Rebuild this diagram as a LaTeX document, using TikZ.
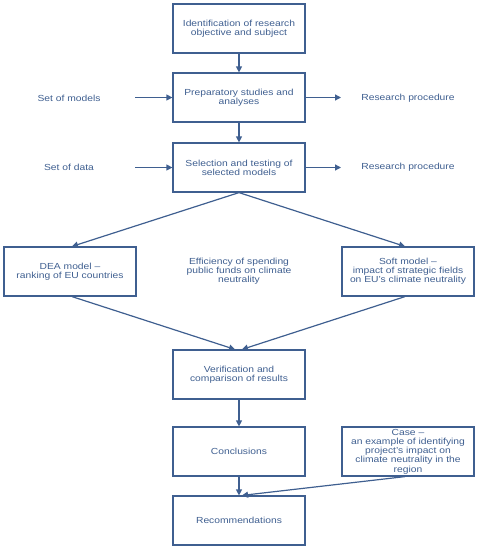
\documentclass[tikz,border=0pt]{standalone}
\usepackage{fontspec}
\setmainfont{Liberation Sans}
\newfontfamily\widefont[FakeStretch=1.17]{Liberation Sans}
\usetikzlibrary{arrows.meta}
\definecolor{dblue}{HTML}{3F5F90}
\begin{document}
\begin{tikzpicture}[x=1pt,y=-1pt,
  box/.style={draw=dblue,line width=1.2pt,minimum width=132pt,minimum height=49pt,inner sep=1pt,align=center,text=dblue,font=\widefont\fontsize{8.8}{9.2}\selectfont},
  lbl/.style={text=dblue,align=center,font=\widefont\fontsize{8.8}{9.2}\selectfont},
  arr/.style={draw=dblue,line width=1.2pt,-{Triangle[length=6pt,width=6pt]}}]
\useasboundingbox (0,0) rectangle (479,550);
\node[box] (b1) at (239,28.5) {Identification of research\\objective and subject};
\node[box] (b2) at (239,97.5) {Preparatory studies and\\analyses};
\node[box] (b3) at (239,167.5) {Selection and testing of\\selected models};
\node[box] (dea) at (70,271.5) {DEA model –\\ranking of EU countries};
\node[box] (soft) at (408,271.5) {Soft model –\\impact of strategic fields\\on EU’s climate neutrality};
\node[box] (ver) at (239,374.5) {Verification and\\comparison of results};
\node[box] (con) at (239,451.5) {Conclusions};
\node[box] (case) at (408,451.5) {Case –\\an example of identifying\\project’s impact on\\climate neutrality in the\\region};
\node[box] (rec) at (239,520.5) {Recommendations};
\node[lbl] (som) at (69,98) {Set of models};
\node[lbl] (sod) at (69,167) {Set of data};
\node[lbl] (rp1) at (408,98) {Research procedure};
\node[lbl] (rp2) at (408,167) {Research procedure};
\node[lbl] (eff) at (239,271) {Efficiency of spending\\public funds on climate\\neutrality};
\coordinate (l1) at (135,97.5);
\coordinate (l2) at (135,167.5);
\coordinate (r1) at (341,97.5);
\coordinate (r2) at (341,167.5);
\draw[arr] (b1.south) -- (b2.north);
\draw[arr] (b2.south) -- (b3.north);
\draw[arr] (l1) -- (b2.west);
\draw[arr] (l2) -- (b3.west);
\draw[arr] (b2.east) -- (r1);
\draw[arr] (b3.east) -- (r2);
\draw[arr] (b3.south) -- ([xshift=2pt]dea.north);
\draw[arr] (b3.south) -- ([xshift=-3pt]soft.north);
\draw[arr] ([xshift=2pt]dea.south) -- ([xshift=-4pt]ver.north);
\draw[arr] ([xshift=-3pt]soft.south) -- ([xshift=3pt]ver.north);
\draw[arr] (ver.south) -- (con.north);
\draw[arr] (con.south) -- (rec.north);
\draw[arr] ([xshift=-3pt]case.south) -- ([xshift=3pt]rec.north);
\end{tikzpicture}
\end{document}
